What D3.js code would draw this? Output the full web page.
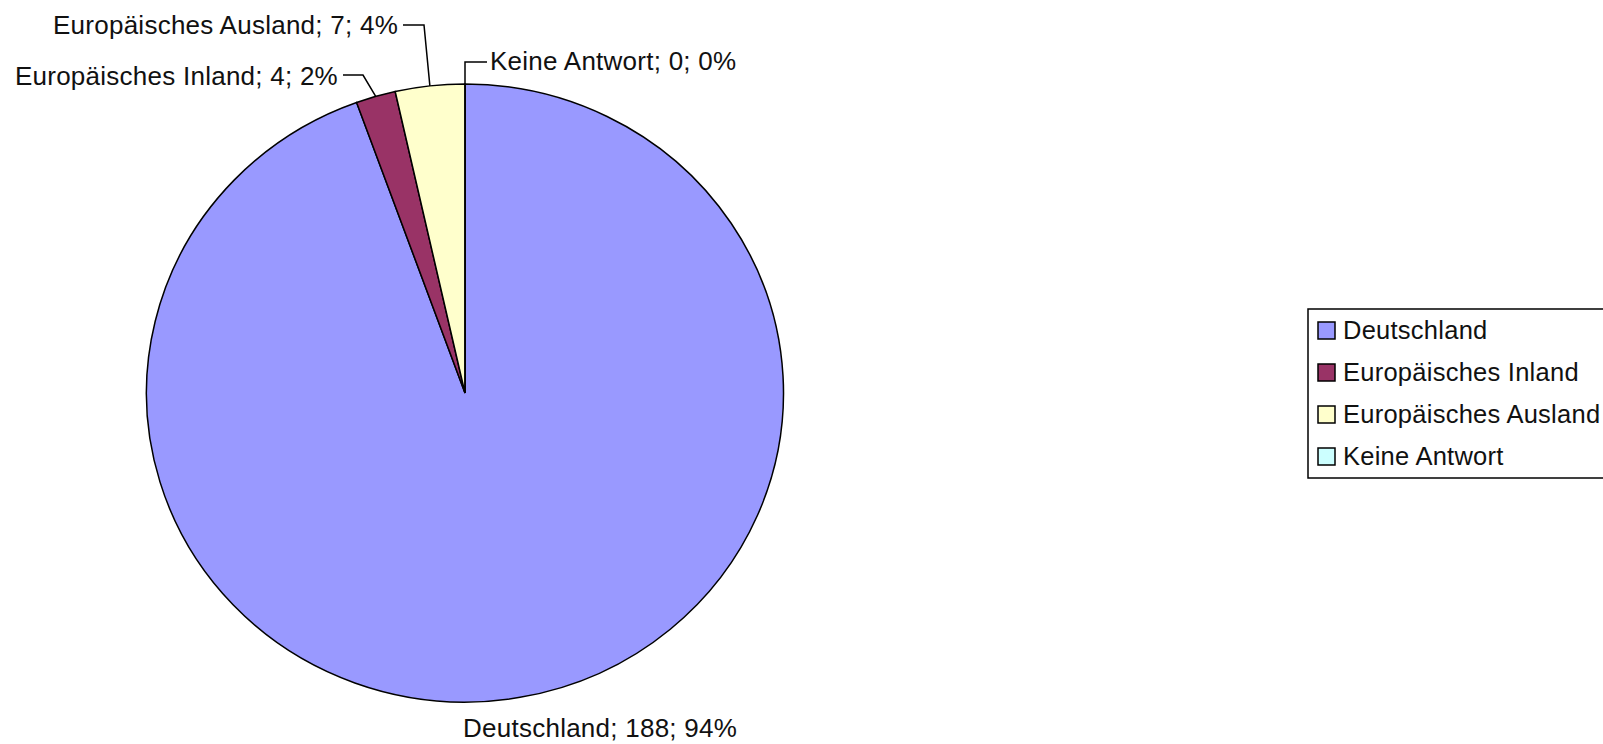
<!DOCTYPE html>
<html>
<head>
  <meta charset="utf-8">
  <script src="https://d3js.org/d3.v7.min.js"></script>
  <title>Herkunft</title>
  <style>
  body { margin: 0; background: white; }
  svg text { font-family: "Liberation Sans", Arial, sans-serif; font-size: 26px; letter-spacing: 0.25px; fill: #111; }
  </style>
</head>
<body>
<svg id="chart" width="1603" height="744"></svg>
<script>
// data
var categories = ["Deutschland", "Europäisches Inland", "Europäisches Ausland", "Keine Antwort"];
var counts = [188, 4, 7, 0];
var colors = ["#9999ff", "#993366", "#ffffcc", "#ccffff"];

var width = 1603, height = 744;
var cx = 465, cy = 393, rx = 318.5, ry = 309;

var svg = d3.select("#chart");
var total = d3.sum(counts);
var data = categories.map(function(c, i) { return {name: c, value: counts[i], color: colors[i]}; });

var pie = d3.pie().sort(null).value(function(d) { return d.value; });
var arcs = pie(data);
var arc = d3.arc().innerRadius(0).outerRadius(rx);

// pie, squashed a bit vertically like the original
svg.append("g")
    .attr("transform", "translate(" + cx + "," + cy + ") scale(1," + (ry / rx) + ")")
  .selectAll("path").data(arcs).enter().append("path")
    .attr("d", arc)
    .attr("fill", function(d) { return d.data.color; })
    .attr("stroke", "#000")
    .attr("stroke-width", 1.5)
    .attr("vector-effect", "non-scaling-stroke");

// point on the pie edge at mid angle of a slice
function edge(d) {
  var a = (d.startAngle + d.endAngle) / 2;
  return [cx + rx * Math.sin(a), cy - ry * Math.cos(a)];
}

// label placement (elbow of leader line, text side)
var labelLayout = [
  {elbow: null, tx: 463, ty: 728, anchor: "start"},
  {elbow: [363, 75], tx: 338, ty: 76, anchor: "end"},
  {elbow: [424, 25], tx: 398, ty: 25, anchor: "end"},
  {elbow: [465, 62], tx: 490, ty: 61, anchor: "start"}
];

var labels = svg.append("g");
arcs.forEach(function(d, i) {
  var L = labelLayout[i];
  var pct = Math.round(d.value / total * 100) + "%";
  if (L.elbow) {
    var p = edge(d);
    var endX = L.anchor === "end" ? L.tx + 5 : L.tx - 3;
    labels.append("polyline")
      .attr("points", [p, L.elbow, [endX, L.elbow[1]]].map(function(q) { return q.join(","); }).join(" "))
      .attr("fill", "none")
      .attr("stroke", "#000")
      .attr("stroke-width", 1.5);
  }
  labels.append("text")
    .attr("x", L.tx)
    .attr("y", L.ty)
    .attr("dy", "0.35em")
    .attr("text-anchor", L.anchor)
    .text(d.data.name + "; " + d.value + "; " + pct);
});

// legend (its right border runs past the window, as in the original)
var legend = svg.append("g").attr("transform", "translate(1308,309)");
legend.append("rect")
    .attr("x", 0).attr("y", 0)
    .attr("width", 320).attr("height", 169)
    .attr("fill", "white")
    .attr("stroke", "#000")
    .attr("stroke-width", 1.5);

var item = legend.selectAll("g.item").data(data).enter().append("g")
    .attr("class", "item")
    .attr("transform", function(d, i) { return "translate(10," + (21.5 + i * 42) + ")"; });
item.append("rect")
    .attr("x", 0).attr("y", -8.5)
    .attr("width", 17).attr("height", 17)
    .attr("fill", function(d) { return d.color; })
    .attr("stroke", "#000")
    .attr("stroke-width", 1.5);
item.append("text")
    .attr("x", 25)
    .attr("y", 0)
    .attr("dy", "0.35em")
    .style("font-size", "25.5px")
    .text(function(d) { return d.name; });
</script>
</body>
</html>
